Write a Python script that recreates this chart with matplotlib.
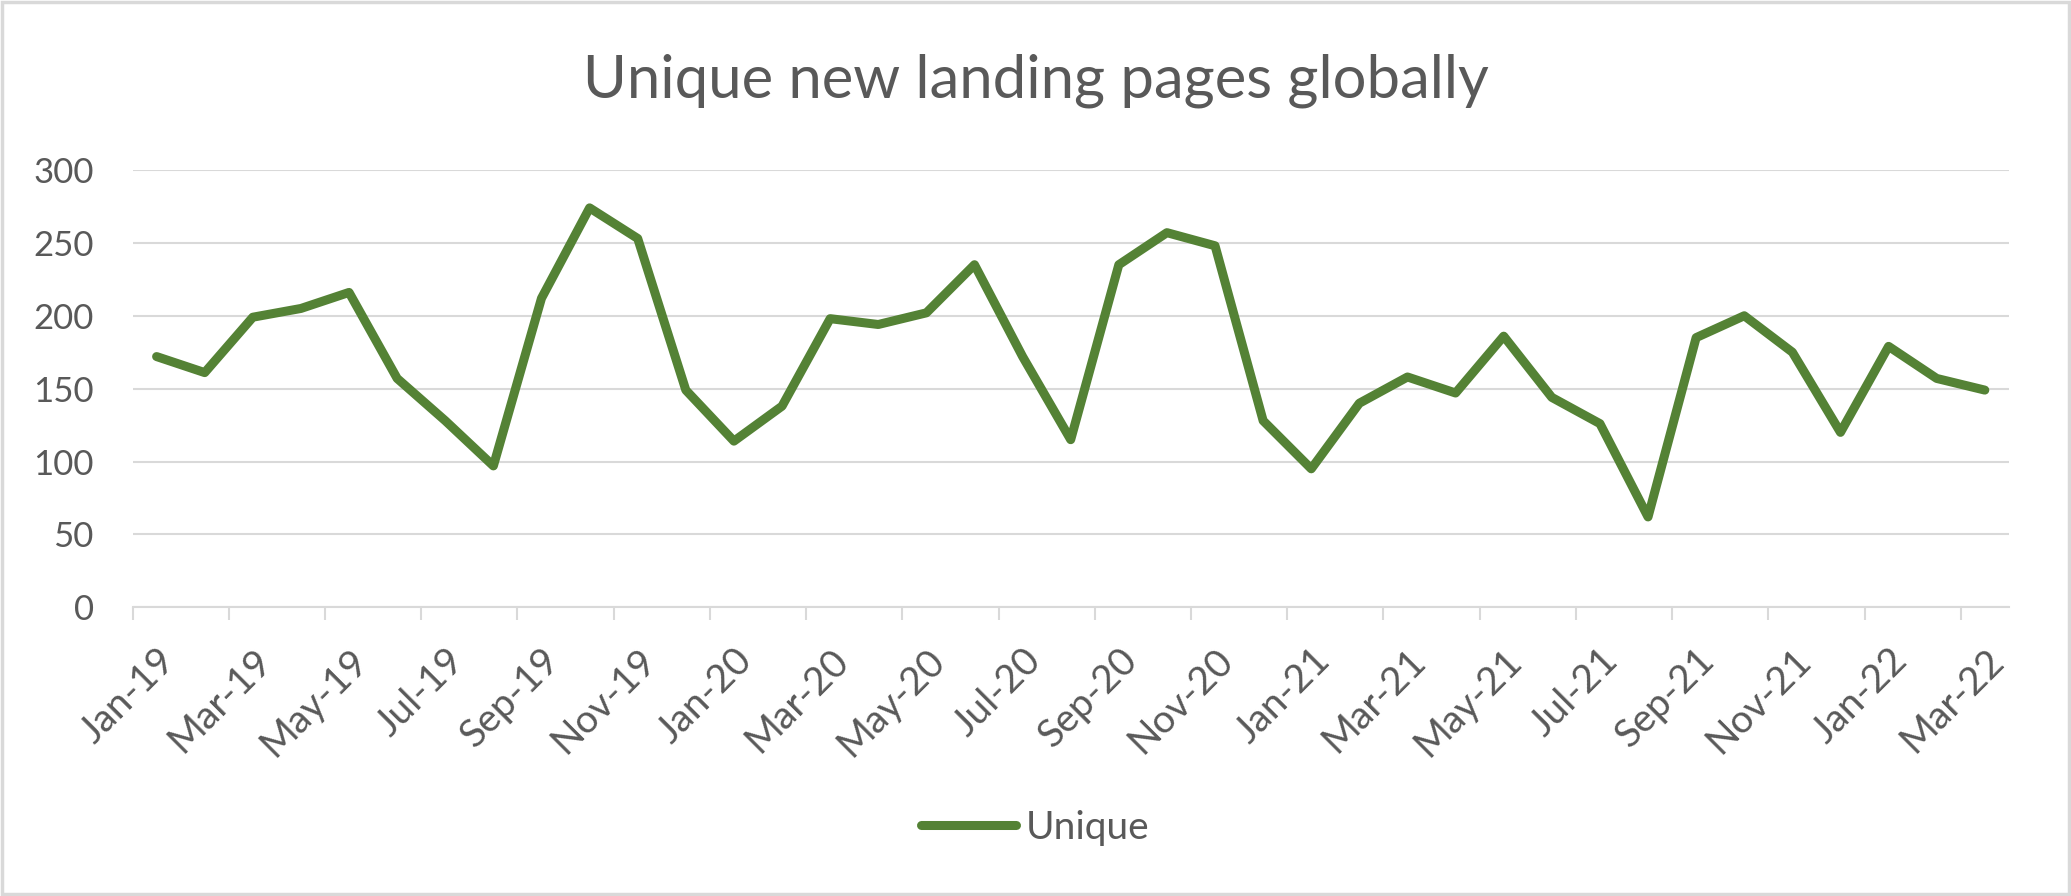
import matplotlib.pyplot as plt
from matplotlib.patches import Rectangle

months = ["Jan-19", "Feb-19", "Mar-19", "Apr-19", "May-19", "Jun-19", "Jul-19", "Aug-19",
          "Sep-19", "Oct-19", "Nov-19", "Dec-19", "Jan-20", "Feb-20", "Mar-20", "Apr-20",
          "May-20", "Jun-20", "Jul-20", "Aug-20", "Sep-20", "Oct-20", "Nov-20", "Dec-20",
          "Jan-21", "Feb-21", "Mar-21", "Apr-21", "May-21", "Jun-21", "Jul-21", "Aug-21",
          "Sep-21", "Oct-21", "Nov-21", "Dec-21", "Jan-22", "Feb-22", "Mar-22"]
unique = [172, 161, 199, 205, 216, 157, 128, 97, 212, 274, 253, 149, 114, 138, 198, 194,
          202, 235, 172, 115, 235, 257, 248, 128, 95, 140, 158, 147, 186, 144, 126, 62,
          185, 200, 175, 120, 179, 157, 149]

grey_txt = "#595959"
grid_col = "#D9D9D9"
green = "#548235"
font = "Lato"

fig = plt.figure(figsize=(20.71, 8.96), dpi=100)
ax = fig.add_axes([0.0640, 0.3222, 0.9060, 0.4881])

x = list(range(len(unique)))
ax.plot(x, unique, color=green, lw=6.5, solid_joinstyle="round", solid_capstyle="round",
        label="Unique", zorder=3)

ax.set_ylim(0, 300)
ax.set_yticks(range(0, 301, 50))
ax.set_xlim(-0.5, len(unique) - 0.5)
ax.grid(axis="y", color=grid_col, lw=1.5)
ax.set_axisbelow(True)

# tick marks on category borders, labels on every second category
ax.set_xticks([i - 0.5 for i in range(0, len(unique), 2)])
ax.set_xticklabels([])
ax.set_xticks(x[::2], minor=True)
ax.set_xticklabels(months[::2], minor=True, rotation=45, ha="right", va="top",
                   rotation_mode="anchor", fontsize=28, color=grey_txt, family=font)
ax.tick_params(axis="x", which="major", length=9, width=1.5, color=grid_col)
ax.tick_params(axis="x", which="minor", length=0, pad=25)
ax.tick_params(axis="y", length=0, pad=28, labelsize=25, labelcolor=grey_txt)
for lab in ax.get_yticklabels():
    lab.set_family(font)

for s in ["top", "right", "left"]:
    ax.spines[s].set_visible(False)
ax.spines["bottom"].set_color(grid_col)
ax.spines["bottom"].set_linewidth(1.5)

fig.text(0.5, 1 - 97 / 896, "Unique new landing pages globally", ha="center", va="baseline",
         fontsize=43, color=grey_txt, family=font)

fig.legend(loc="center", bbox_to_anchor=(0.5, 1 - 828 / 896), frameon=False,
           handlelength=2.45, handletextpad=0.25, prop={"family": font, "size": 28},
           labelcolor=grey_txt)

fig.patches.append(Rectangle((0.001, 0.002), 0.998, 0.996, transform=fig.transFigure,
                             fill=False, edgecolor=grid_col, lw=2.5))

fig.savefig("out.png", dpi=100, facecolor="white")
